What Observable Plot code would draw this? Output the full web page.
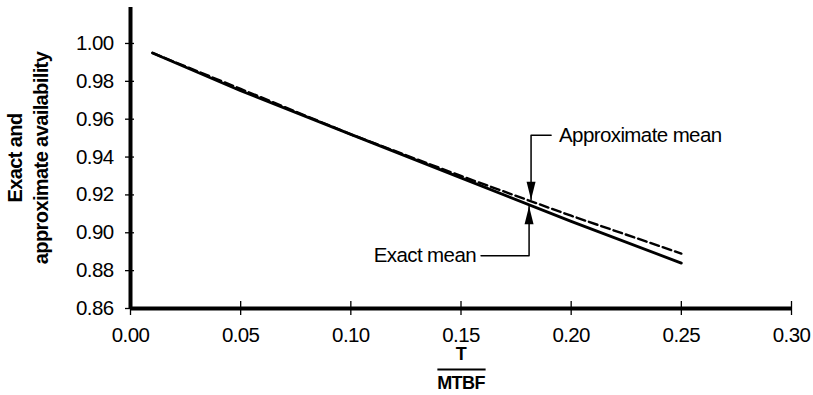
<!DOCTYPE html>
<html><head><meta charset="utf-8">
<script src="https://cdn.jsdelivr.net/npm/d3@7"></script>
<script src="https://cdn.jsdelivr.net/npm/@observablehq/plot@0.6"></script>
<style>body{margin:0;background:#fff;}</style>
</head><body><div id="chart"></div>
<script>
// Data
const ratio = [0.01, 0.05, 0.10, 0.15, 0.20, 0.25];          // T / MTBF
const exactMean = [0.995, 0.975, 0.952, 0.929, 0.906, 0.884];
const approxMean = [0.995, 0.976, 0.952, 0.930, 0.909, 0.889];
const xTicks = [0.00, 0.05, 0.10, 0.15, 0.20, 0.25, 0.30];
const yTicks = [0.86, 0.88, 0.90, 0.92, 0.94, 0.96, 0.98, 1.00];

// Callouts (data coordinates)
const approxLabel = "Approximate mean";
const approxCalloutX = [0.1909, 0.1818, 0.1818];
const approxCalloutY = [0.9515, 0.9515, 0.9175];
const exactLabel = "Exact mean";
const exactCalloutX = [0.1591, 0.1809, 0.1809];
const exactCalloutY = [0.8879, 0.8879, 0.9140];
const yLabelLines = ["Exact and", "approximate availability"];
const xLabelTop = "T";
const xLabelBottom = "MTBF";

const exactData = ratio.map((x, i) => ({x, y: exactMean[i]}));
const approxData = ratio.map((x, i) => ({x, y: approxMean[i]}));
const approxCallout = approxCalloutX.map((x, i) => ({x, y: approxCalloutY[i]}));
const exactCallout = exactCalloutX.map((x, i) => ({x, y: exactCalloutY[i]}));

const arrowDown = {draw(ctx) { ctx.moveTo(0, 0); ctx.lineTo(-4.5, -18); ctx.lineTo(4.5, -18); ctx.closePath(); }};
const arrowUp = {draw(ctx) { ctx.moveTo(0, 0); ctx.lineTo(-4.5, 18); ctx.lineTo(4.5, 18); ctx.closePath(); }};

const chart = Plot.plot({
  width: 813,
  height: 395,
  marginLeft: 130,
  marginRight: 22,
  marginTop: 7,
  marginBottom: 87,
  style: {fontFamily: "'Liberation Sans', Arial, sans-serif", fontSize: "20.5px", letterSpacing: "-0.6px", color: "#000", background: "#fff"},
  x: {domain: [0, 0.30]},
  y: {domain: [0.86, 1.019]},
  marks: [
    Plot.axisY({ticks: yTicks, tickFormat: d3.format(".2f"), tickSize: 9, dx: 4, tickPadding: 12, strokeWidth: 1.3, label: null}),
    Plot.axisX({ticks: xTicks, tickFormat: d3.format(".2f"), tickSize: 14, dy: -7, tickPadding: 12, strokeWidth: 1.3, label: null}),
    Plot.ruleX([0], {strokeWidth: 4}),
    Plot.ruleY([0.86], {strokeWidth: 4}),
    Plot.line(exactData, {x: "x", y: "y", strokeWidth: 2.8}),
    Plot.line(approxData, {x: "x", y: "y", strokeWidth: 2.4, strokeDasharray: "9,4"}),
    Plot.line(approxCallout, {x: "x", y: "y", strokeWidth: 1.5}),
    Plot.line(exactCallout, {x: "x", y: "y", strokeWidth: 1.5}),
    Plot.dot([approxCallout[2]], {x: "x", y: "y", symbol: arrowDown, fill: "#000", stroke: null}),
    Plot.dot([exactCallout[2]], {x: "x", y: "y", symbol: arrowUp, fill: "#000", stroke: null}),
    Plot.text([approxLabel], {x: approxCalloutX[0] + 0.0036, y: approxCalloutY[0], text: d => d, textAnchor: "start"}),
    Plot.text([exactLabel], {x: exactCalloutX[0] - 0.0023, y: exactCalloutY[0], text: d => d, textAnchor: "end"}),
    Plot.text([yLabelLines[0]], {frameAnchor: "left", text: d => d, rotate: -90, dx: -115, textAnchor: "middle", lineAnchor: "middle", fontWeight: "bold", fontSize: 20}),
    Plot.text([yLabelLines[1]], {frameAnchor: "left", text: d => d, rotate: -90, dx: -89, textAnchor: "middle", lineAnchor: "middle", fontWeight: "bold", fontSize: 20}),
    Plot.text([xLabelTop], {frameAnchor: "bottom", text: d => d, dy: 46, lineAnchor: "middle", fontWeight: "bold", fontSize: 18}),
    Plot.text([xLabelBottom], {frameAnchor: "bottom", text: d => d, dy: 75, lineAnchor: "middle", fontWeight: "bold", fontSize: 18}),
    Plot.ruleY([{y: 0.86, x1: 0.1395, x2: 0.1614}], {y: "y", x1: "x1", x2: "x2", dy: 61, strokeWidth: 2})
  ]
});
document.getElementById("chart").append(chart);
</script>
</body></html>
